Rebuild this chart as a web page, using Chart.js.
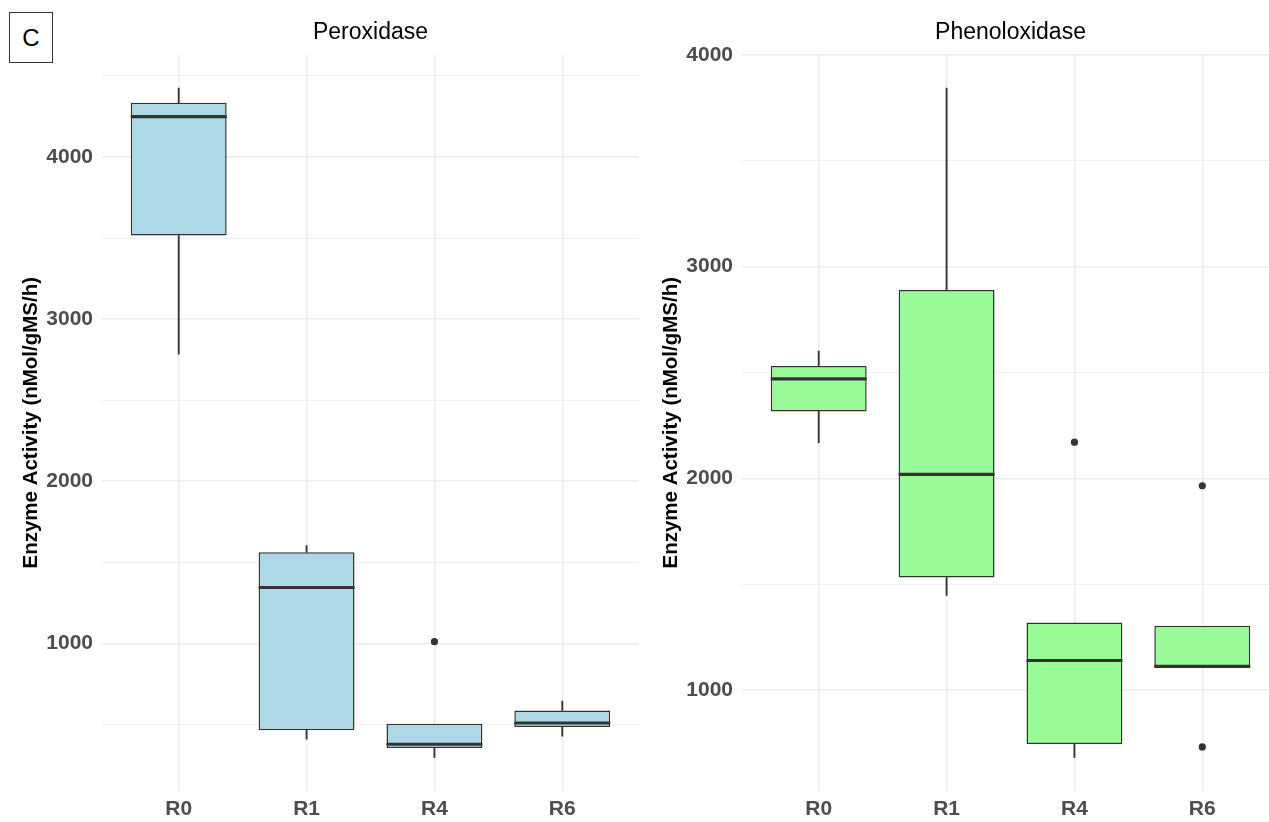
<!DOCTYPE html>
<html>
<head>
<meta charset="utf-8">
<script src="https://cdn.jsdelivr.net/npm/chart.js@4/dist/chart.umd.min.js"></script>
<style>
  html, body { margin: 0; padding: 0; background: #ffffff; overflow: hidden; width: 1269px; height: 822px; }
  #left, #right { position: absolute; top: 0; }
  #left { left: 0; }
  #right { left: 640px; }
  #panelTag {
    position: absolute; left: 9px; top: 12px; width: 42px; height: 49px;
    border: 1.5px solid #333; background: #fff;
    font: 24px "Liberation Sans", Arial, sans-serif; color: #000;
    display: flex; align-items: center; justify-content: center;
  }
</style>
</head>
<body>
<canvas id="left" width="639" height="822"></canvas>
<canvas id="right" width="639" height="822"></canvas>
<div id="panelTag">C</div>
<script>
// Treatments on the x axis
const categories = ['R0', 'R1', 'R4', 'R6'];

// Peroxidase five-number summaries per treatment
const peroxLow    = [2784, 409, 295, 426];
const peroxQ1     = [3516, 463, 354, 483];
const peroxMedian = [4249, 1344, 377, 508];
const peroxQ3     = [4335, 1562, 504, 585];
const peroxHigh   = [4426, 1603, 504, 644];
const peroxOutlierGroup = [2];
const peroxOutlierValue = [1010];

// Phenoloxidase five-number summaries per treatment
const phenoLow    = [2168, 1447, 682, 1105];
const phenoQ1     = [2316, 1532, 746, 1105];
const phenoMedian = [2470, 2019, 1140, 1112];
const phenoQ3     = [2530, 2889, 1320, 1304];
const phenoHigh   = [2601, 3843, 1320, 1304];
const phenoOutlierGroup = [2, 3, 3];
const phenoOutlierValue = [2171, 1965, 732];

// Axis ticks
const yMajorTicks = [1000, 2000, 3000, 4000];
const yMinorTicks = [500, 1500, 2500, 3500, 4500];

const FONT = '"Liberation Sans", Arial, Helvetica, sans-serif';
const INK = '#333333';
const GRID = '#ebebeb';
const BOX_WIDTH = 0.75; // in category units

function buildDatasets(low, q1, med, q3, high, outGroup, outValue, fill) {
  const pts = arr => arr.map((v, i) => ({ x: i, y: v }));
  const span = (a, b) => a.map((v, i) => ({ x: i, y: [v, b[i]] }));
  // whiskers of zero length are left undrawn
  const whiskerColor = ctx => {
    const r = ctx.raw;
    return r && r.y[0] === r.y[1] ? 'rgba(0,0,0,0)' : INK;
  };
  const whisker = {
    type: 'bar', grouped: false, barThickness: 1.2,
    backgroundColor: whiskerColor, borderWidth: 0, order: 3
  };
  return [
    Object.assign({ data: span(low, q1) }, whisker),
    Object.assign({ data: span(q3, high) }, whisker),
    {
      type: 'bar', grouped: false, data: span(q1, q3),
      categoryPercentage: BOX_WIDTH, barPercentage: 1,
      backgroundColor: fill, borderColor: INK, borderWidth: 1.5,
      borderSkipped: false, order: 2
    },
    {
      type: 'scatter', data: pts(med), order: 1,
      pointStyle: 'line', borderColor: INK, borderWidth: 3.2,
      pointRadius: ctx => {
        const x = ctx.chart.scales.x;
        return Math.abs(x.getPixelForValue(BOX_WIDTH / 2) - x.getPixelForValue(0));
      }
    },
    {
      type: 'scatter', order: 0,
      data: outGroup.map((g, i) => ({ x: g, y: outValue[i] })),
      pointStyle: 'circle', pointRadius: 3.6,
      backgroundColor: INK, borderWidth: 0
    }
  ];
}

function makeChart(canvasId, title, datasets, yMin, yMax) {
  const allTicks = yMajorTicks.concat(yMinorTicks).sort((a, b) => a - b);
  return new Chart(document.getElementById(canvasId), {
    type: 'bar',
    data: { datasets },
    options: {
      responsive: false,
      animation: false,
      events: [],
      layout: { padding: 0, autoPadding: false },
      plugins: {
        legend: { display: false },
        tooltip: { enabled: false },
        title: {
          display: true, text: title, fullSize: false,
          color: '#000', font: { family: FONT, size: 23, weight: 'normal' },
          padding: { top: 19.2, bottom: 7.7 }
        }
      },
      scales: {
        x: {
          type: 'linear', offset: false,
          min: -0.6, max: categories.length - 0.4,
          afterBuildTicks: s => { s.ticks = categories.map((_, i) => ({ value: i })); },
          afterFit: s => { s.height = 31; s.paddingLeft = 0; s.paddingRight = 0; },
          ticks: {
            callback: v => categories[v],
            padding: 6, maxRotation: 0, autoSkip: false,
            color: '#4d4d4d', font: { family: FONT, size: 21, weight: 'bold' }
          },
          grid: { color: GRID, lineWidth: 1.4, drawTicks: false, offset: false },
          border: { display: false }
        },
        y: {
          type: 'linear', min: yMin, max: yMax,
          afterBuildTicks: s => {
            s.ticks = allTicks.filter(v => v >= s.min && v <= s.max).map(v => ({ value: v }));
          },
          afterFit: s => { s.width = 102; },
          ticks: {
            callback: v => (yMajorTicks.includes(v) ? String(v) : ''),
            padding: 9,
            color: '#4d4d4d', font: { family: FONT, size: 21, weight: 'bold' }
          },
          grid: {
            color: GRID, drawTicks: false,
            lineWidth: ctx => (yMajorTicks.includes(ctx.tick && ctx.tick.value) ? 1.4 : 0.8)
          },
          border: { display: false },
          title: {
            display: true, text: 'Enzyme Activity (nMol/gMS/h)',
            color: '#000', font: { family: FONT, size: 20.5, weight: 'bold' },
            padding: { top: 19.3, bottom: 0 }
          }
        }
      }
    }
  });
}

// Axis limits: data extent plus 5% on each side
function limits(low, high, outValue) {
  const all = low.concat(high, outValue);
  const lo = Math.min(...all), hi = Math.max(...all);
  const pad = (hi - lo) * 0.05;
  return [lo - pad, hi + pad];
}

const [pMin, pMax] = limits(peroxLow, peroxHigh, peroxOutlierValue);
const [fMin, fMax] = limits(phenoLow, phenoHigh, phenoOutlierValue);

makeChart('left', 'Peroxidase',
  buildDatasets(peroxLow, peroxQ1, peroxMedian, peroxQ3, peroxHigh,
                peroxOutlierGroup, peroxOutlierValue, '#add8e6'),
  pMin, pMax);

makeChart('right', 'Phenoloxidase',
  buildDatasets(phenoLow, phenoQ1, phenoMedian, phenoQ3, phenoHigh,
                phenoOutlierGroup, phenoOutlierValue, '#98fb98'),
  fMin, fMax);
</script>
</body>
</html>
